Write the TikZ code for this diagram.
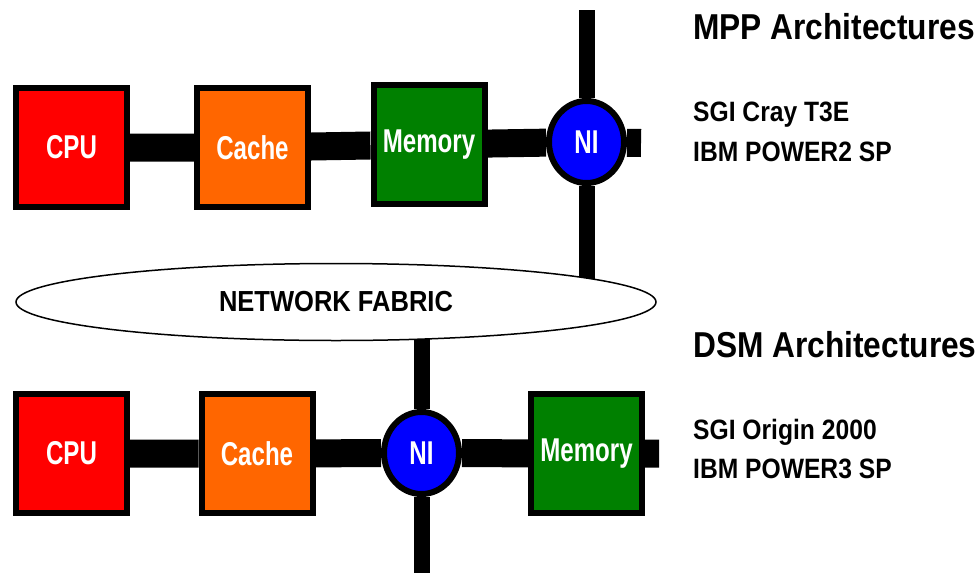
\documentclass[tikz,border=0pt]{standalone}
\usepackage{fontspec}
\setmainfont{Liberation Sans}[FakeStretch=0.88]
\newfontfamily\labelfont{Liberation Sans}[FakeStretch=0.73]
\usetikzlibrary{shapes.geometric,backgrounds}

\definecolor{cpured}{RGB}{255,0,0}
\definecolor{cacheorange}{RGB}{255,102,0}
\definecolor{memgreen}{RGB}{0,128,0}
\definecolor{niblue}{RGB}{0,0,255}

\tikzset{
  unitbox/.style={draw=black, line width=6pt, minimum width=111pt, minimum height=119pt,
    inner sep=0pt, text=white, font=\labelfont\bfseries\fontsize{33}{35}\selectfont},
  nibox/.style={ellipse, draw=black, line width=6pt, fill=niblue, minimum width=75pt,
    minimum height=82pt, inner sep=0pt, text=white, font=\labelfont\bfseries\fontsize{33}{35}\selectfont},
  fabricbox/.style={ellipse, draw=black, line width=1.5pt, fill=white, minimum width=640pt,
    minimum height=77pt, inner sep=0pt, font=\bfseries\fontsize{29}{31}\selectfont},
  busline/.style={line width=28pt},
  linkline/.style={line width=16pt},
  heading/.style={anchor=base west, inner sep=0pt, font=\bfseries\fontsize{36}{40}\selectfont},
  system/.style={anchor=base west, inner sep=0pt, font=\bfseries\fontsize{28}{30}\selectfont}
}

\begin{document}
\begin{tikzpicture}[x=1pt,y=-1pt]
  \useasboundingbox (0,0) rectangle (980,573);

  % MPP node
  \node[unitbox, fill=cpured] (cpu1) at (71.5,147.5) {CPU};
  \node[unitbox, fill=cacheorange] (cache1) at (252.5,147.5) {Cache};
  \node[unitbox, fill=memgreen] (mem1) at (429,144.5) {Memory};
  \node[nibox] (ni1) at (586.5,142) {NI};
  \coordinate (end1) at (641,143);
  \coordinate (top1) at (ni1 |- 0,10);

  \node[fabricbox] (fabric) at (336,302) {NETWORK FABRIC};

  % DSM node
  \node[unitbox, fill=cpured] (cpu2) at (71.5,453.5) {CPU};
  \node[unitbox, fill=cacheorange] (cache2) at (257,453.5) {Cache};
  \node[nibox] (ni2) at (421.5,453) {NI};
  \node[unitbox, fill=memgreen] (mem2) at (586.5,453.5) {Memory};
  \coordinate (end2) at (659,453.5);
  \coordinate (bottom2) at (ni2 |- 0,573);

  \begin{pgfonlayer}{background}
    \draw[busline] (cpu1) -- (cache1) -- (mem1) -- (ni1) -- (end1);
    \draw[linkline] (top1) -- (ni1) -- (ni1 |- fabric);
    \draw[busline] (cpu2) -- (cache2) -- (ni2) -- (mem2) -- (end2);
    \draw[linkline] (ni2 |- fabric) -- (ni2) -- (bottom2);
  \end{pgfonlayer}

  \node[heading] (mpptitle) at (693,39) {MPP Architectures};
  \node[system] (mppsys1) at (693,121) {SGI Cray T3E};
  \node[system] (mppsys2) at (693,161) {IBM POWER2 SP};
  \node[heading] (dsmtitle) at (693,357) {DSM Architectures};
  \node[system] (dsmsys1) at (693,439) {SGI Origin 2000};
  \node[system] (dsmsys2) at (693,478) {IBM POWER3 SP};
\end{tikzpicture}
\end{document}
